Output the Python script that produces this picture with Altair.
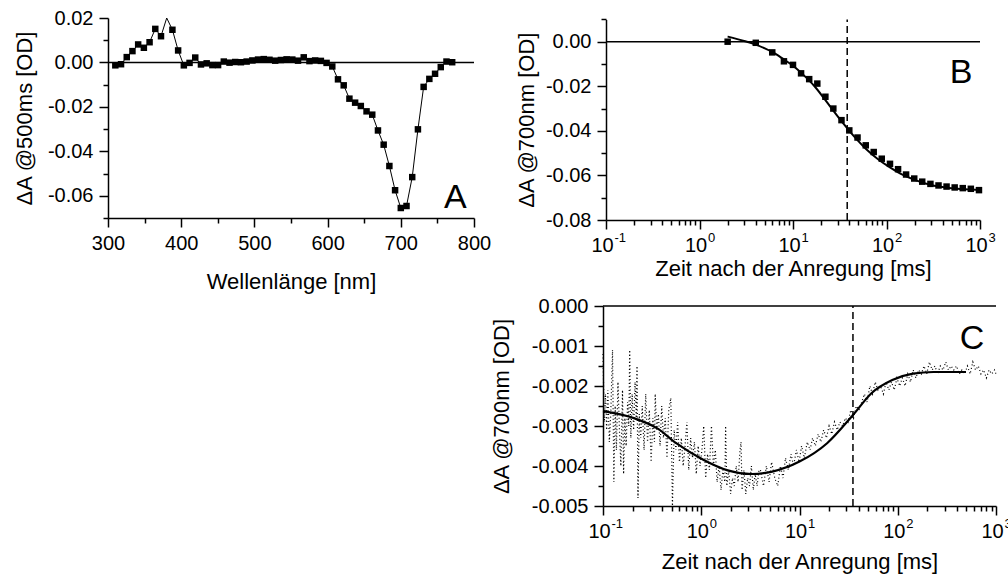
import altair as alt
import pandas as pd

W, H = 1008, 576
FONT = "Liberation Sans"

# ---------------- Panel A : spectrum at 500 ms ----------------
wl_nm = [310.0, 317.8, 325.6, 333.4, 341.2, 349.0, 356.8, 364.6, 372.4, 380.2,
         388.0, 395.8, 403.6, 411.4, 419.2, 427.0, 434.8, 442.6, 450.4, 458.2,
         466.0, 473.8, 481.6, 489.4, 497.2, 505.0, 512.8, 520.6, 528.4, 536.2,
         544.0, 551.8, 559.6, 567.4, 575.2, 583.0, 590.8, 598.6, 606.4, 614.2,
         622.0, 629.8, 637.6, 645.4, 653.2, 661.0, 668.8, 676.6, 684.4, 692.2,
         700.0, 707.8, 715.6, 723.4, 731.2, 739.0, 746.8, 754.6, 762.4, 770.2]
dA_500ms = [-0.0013, -0.0008, 0.0024, 0.0051, 0.0081, 0.0066, 0.0091, 0.0151, 0.0118, 0.0225,
            0.0147, 0.0054, -0.0013, -0.0002, 0.0022, -0.0009, -0.0004, -0.0012, -0.0012, 0.0004,
            -0.0001, 0.0002, 0.0001, 0.0004, 0.0009, 0.0013, 0.0015, 0.0012, 0.0008, 0.0011,
            0.0014, 0.0013, 0.0008, 0.0023, 0.0006, 0.0009, 0.0007, -0.0002, -0.0018, -0.0076,
            -0.0103, -0.0163, -0.0181, -0.0196, -0.0220, -0.0235, -0.0306, -0.0370, -0.0466, -0.0575,
            -0.0655, -0.0646, -0.0516, -0.0301, -0.0110, -0.0074, -0.0051, -0.0021, 0.0004, 0.0001]
A_x_major = [300, 400, 500, 600, 700, 800]
A_x_minor = [350, 450, 550, 650, 750]
A_y_major = [-0.06, -0.04, -0.02, 0.0, 0.02]
A_y_minor = [-0.07, -0.05, -0.03, -0.01, 0.01]
A_zero = {"x0": [300], "x1": [800], "y0": [0.0]}
A_tag = {"x": [774.6], "y": [-0.0656], "t": ["A"]}

# ---------------- Panel B : kinetics at 700 nm ----------------
tB_pts = [2, 4, 6, 8, 10, 12.2, 14.9, 18.2, 22.2, 27, 33, 40, 49, 60, 73, 89, 109,
          133, 162, 198, 241, 295, 360, 439, 536, 654, 798, 975]
dA_B_pts = [0.0000, -0.0005, -0.0048, -0.0088, -0.0104, -0.0142, -0.0168, -0.0188,
            -0.0247, -0.0300, -0.0352, -0.0398, -0.0430, -0.0465, -0.0495, -0.0525,
            -0.0548, -0.0572, -0.0596, -0.0614, -0.0628, -0.0638, -0.0645, -0.0650,
            -0.0654, -0.0657, -0.0660, -0.0666]
tB_fit = [2.0, 3.0, 4.0, 5.0, 6.0, 8.0, 10, 13, 17, 22, 28, 35, 45, 60, 80, 110,
          150, 200, 300, 450, 700, 1000]
dA_B_fit = [0.0023, 0.0003, -0.0013, -0.0030, -0.0046, -0.0080, -0.0108, -0.0150,
            -0.0200, -0.0260, -0.0318, -0.0370, -0.0425, -0.0480, -0.0525, -0.0565,
            -0.0598, -0.0620, -0.0643, -0.0655, -0.0662, -0.0665]
B_y_major = [-0.08, -0.06, -0.04, -0.02, 0.0]
B_y_minor = [-0.07, -0.05, -0.03, -0.01, 0.01]
B_zero = {"x0": [0.1], "x1": [1000], "y0": [0.0]}
B_dash = {"t": [38], "ylo": [-0.08], "yhi": [0.01]}
B_tag = {"x": [627], "y": [-0.01865], "t": ["B"]}

# ---------------- Panel C : fast kinetics at 700 nm ----------------
tC = [0.100, 0.103, 0.106, 0.109, 0.112, 0.116, 0.120, 0.125, 0.129, 0.133,
      0.137, 0.142, 0.147, 0.152, 0.158, 0.162, 0.167, 0.172, 0.178, 0.183,
      0.187, 0.192, 0.198, 0.205, 0.212, 0.218, 0.222, 0.227, 0.234, 0.242,
      0.251, 0.262, 0.272, 0.284, 0.296, 0.309, 0.322, 0.334, 0.340, 0.352,
      0.366, 0.381, 0.396, 0.412, 0.430, 0.448, 0.467, 0.490, 0.509, 0.530,
      0.552, 0.575, 0.600, 0.627, 0.655, 0.684, 0.714, 0.746, 0.780, 0.815,
      0.852, 0.890, 0.930, 0.972, 1.016, 1.06, 1.11, 1.16, 1.21, 1.27,
      1.33, 1.39, 1.45, 1.52, 1.59, 1.66, 1.74, 1.77, 1.82, 1.90,
      1.99, 2.08, 2.17, 2.27, 2.37, 2.48, 2.54, 2.60, 2.72, 2.84,
      2.97, 3.10, 3.24, 3.39, 3.54, 3.70, 3.87,
      4.0, 4.3, 4.6, 4.9, 5.2, 5.6, 6.0, 6.4, 6.8, 7.2,
      7.7, 8.2, 8.7, 9.3, 9.9, 10.5, 11.2, 12.0, 12.8, 13.6,
      14.5, 15.5, 16.5, 17.6, 18.8, 20.0, 21.3, 22.7, 24.2, 25.8,
      27.5, 29.3, 31.2, 33.3, 35.5, 37.8, 40.3, 43.0, 45.8, 48.8,
      52.0, 55.4, 59.0, 62.9, 67.0, 71.4, 76.1, 81.1, 86.4, 92.1,
      98.1, 104.5, 111.4, 118.7, 126.5, 134.8, 143.6, 153, 163, 174,
      185, 197, 210, 224, 239, 254, 271, 289, 308, 328,
      349, 372, 397, 423, 450, 480, 512, 545, 581, 619,
      660, 703, 749, 798, 850, 906, 965, 1000]
dA_C = [-0.0012, -0.0029, -0.0022, -0.0031, -0.0021, -0.0034, -0.0027, -0.0011, -0.0044, -0.0025,
        -0.0036, -0.0019, -0.0031, -0.0040, -0.0021, -0.0042, -0.0028, -0.0035, -0.0024, -0.0030,
        -0.0011, -0.0033, -0.0022, -0.0031, -0.0019, -0.0028, -0.0015, -0.0048, -0.0027, -0.0033,
        -0.0025, -0.0036, -0.0022, -0.0034, -0.0026, -0.0039, -0.0028, -0.0034, -0.0022, -0.0031,
        -0.0027, -0.0035, -0.0025, -0.0033, -0.0028, -0.0038, -0.0026, -0.0023, -0.0050, -0.0031,
        -0.0036, -0.0029, -0.0039, -0.0033, -0.0040, -0.0035, -0.0029, -0.0041, -0.0033, -0.0038,
        -0.0034, -0.0042, -0.0035, -0.0040, -0.0036, -0.0030, -0.0043, -0.0037, -0.0041, -0.0030,
        -0.0040, -0.0036, -0.0044, -0.0040, -0.0046, -0.0041, -0.0044, -0.0030, -0.0045, -0.0041,
        -0.0047, -0.0043, -0.0045, -0.0040, -0.0044, -0.0036, -0.0034, -0.0046, -0.0041, -0.0047,
        -0.0043, -0.0045, -0.0040, -0.0046, -0.0042, -0.0045, -0.0041,
        -0.0041, -0.0045, -0.0040, -0.0044, -0.0039, -0.0043, -0.0045, -0.0040, -0.0043, -0.0038,
        -0.0041, -0.0037, -0.0040, -0.0036, -0.0039, -0.0035, -0.0038, -0.0034, -0.0036, -0.0033,
        -0.0035, -0.0032, -0.0034, -0.0031, -0.0033, -0.0030, -0.0032, -0.0029, -0.0031, -0.0029,
        -0.0030, -0.0028, -0.0029, -0.0026, -0.0028, -0.0025, -0.0026, -0.0024, -0.0022, -0.0024,
        -0.0020, -0.0022, -0.0019, -0.0021, -0.0020, -0.0022, -0.0019, -0.0021, -0.0019, -0.0021,
        -0.0018, -0.0020, -0.0018, -0.0020, -0.0017, -0.0019, -0.0016, -0.0018, -0.0016, -0.0017,
        -0.0015, -0.0017, -0.0014, -0.0016, -0.0015, -0.0017, -0.0015, -0.0016, -0.0014, -0.0016,
        -0.0015, -0.0016, -0.0015, -0.0017, -0.0016, -0.0017, -0.0015, -0.0017, -0.0014, -0.0016,
        -0.0015, -0.0017, -0.0016, -0.0018, -0.0016, -0.0017, -0.0016, -0.0017]
tC_fit = [0.1, 0.21, 0.357, 0.556, 1.06, 1.86, 3.26, 5.28, 10.0, 19.1, 34.9, 54, 88, 143, 231, 495]
dA_C_fit = [-0.00263, -0.00281, -0.00306, -0.00343, -0.00385, -0.00411, -0.00420, -0.00414,
            -0.00389, -0.00343, -0.00273, -0.00218, -0.00185, -0.00169, -0.00165, -0.00165]
C_y_major = [-0.005, -0.004, -0.003, -0.002, -0.001, 0.0]
C_y_minor = [-0.0045, -0.0035, -0.0025, -0.0015, -0.0005]
C_zero = {"x0": [0.1], "x1": [1000], "y0": [0.0]}
C_dash = {"t": [35], "ylo": [-0.005], "yhi": [0.0]}
C_tag = {"x": [570], "y": [-0.00107], "t": ["C"]}

log_major = [0.1, 1, 10, 100, 1000]
log_minor = [0.2, 0.3, 0.4, 0.5, 0.6, 0.7, 0.8, 0.9, 2, 3, 4, 5, 6, 7, 8, 9,
             20, 30, 40, 50, 60, 70, 80, 90, 200, 300, 400, 500, 600, 700, 800, 900]

# ---------------- pixel layout of the three panels ----------------
A_X, A_Y = [108, 474], [218, 18]
B_X, B_Y = [606, 980], [220, 19.4]
C_X, C_Y = [603, 996], [506, 306]

TICK_MAJ, TICK_MIN = 9, 5
LBL, TTL, LPAD = 20, 22, 6
TAG = 34


def xaxis(yline, values, ticksize=TICK_MAJ, labels=True, domain=True, title=None, **kw):
    return alt.Axis(orient="bottom", offset=yline - H, values=values, tickSize=ticksize,
                    labels=labels, domain=domain, title=title, grid=False, **kw)


def yaxis(xline, values, ticksize=TICK_MAJ, labels=True, domain=True, title=None, **kw):
    return alt.Axis(orient="left", offset=-xline, values=values, tickSize=ticksize,
                    labels=labels, domain=domain, title=title, grid=False, **kw)


fmt2 = "replace(format(datum.value,'.2f'),'\u2212','-')"
fmt3 = "replace(format(datum.value,'.3f'),'\u2212','-')"
exp_expr = ("datum.value < 0.5 ? '-1' : datum.value < 5 ? '0' : "
            "datum.value < 50 ? '1' : datum.value < 500 ? '2' : '3'")

# ---------- A ----------
xA = alt.Scale(domain=[300, 800], range=A_X, nice=False, zero=False)
yA = alt.Scale(domain=[-0.07, 0.02], range=A_Y, nice=False, zero=False, clamp=True)
dfA = pd.DataFrame({"wl": wl_nm, "dA": dA_500ms})

A_line = alt.Chart(dfA).mark_line(color="black", strokeWidth=1).encode(
    x=alt.X("wl:Q", scale=xA, axis=xaxis(A_Y[0], A_x_major, format="d",
                                          title="Wellenlänge [nm]", titlePadding=18)),
    y=alt.Y("dA:Q", scale=yA, axis=yaxis(A_X[0], A_y_major, labelExpr=fmt2,
                                          title="ΔA @500ms [OD]", titlePadding=11)),
)
A_pts = alt.Chart(dfA).transform_filter("datum.dA <= 0.02").mark_square(
    size=42, color="black", opacity=1).encode(
    x=alt.X("wl:Q", scale=xA, axis=xaxis(A_Y[0], A_x_minor, TICK_MIN, labels=False, domain=False)),
    y=alt.Y("dA:Q", scale=yA, axis=yaxis(A_X[0], A_y_minor, TICK_MIN, labels=False, domain=False)),
)
A_zero_l = alt.Chart(pd.DataFrame(A_zero)).mark_rule(color="black", strokeWidth=1.5).encode(
    x=alt.X("x0:Q", scale=xA, axis=None), x2="x1:Q",
    y=alt.Y("y0:Q", scale=yA, axis=None),
)
A_txt = alt.Chart(pd.DataFrame(A_tag)).mark_text(
    fontSize=TAG, font=FONT, align="center", baseline="alphabetic", color="black").encode(
    x=alt.X("x:Q", scale=xA, axis=None), y=alt.Y("y:Q", scale=yA, axis=None), text="t:N")

# ---------- B ----------
xB = alt.Scale(type="log", domain=[0.1, 1000], range=B_X, nice=False)
yB = alt.Scale(domain=[-0.08, 0.01], range=B_Y, nice=False, zero=False)
dfBp = pd.DataFrame({"t": tB_pts, "dA": dA_B_pts})
dfBf = pd.DataFrame({"t": tB_fit, "dA": dA_B_fit})

B_fit = alt.Chart(dfBf).mark_line(color="black", strokeWidth=2, interpolate="monotone").encode(
    x=alt.X("t:Q", scale=xB, axis=xaxis(B_Y[0], log_major, labelExpr="'10'", labelOffset=-4,
                                         title="Zeit nach der Anregung [ms]", titlePadding=3)),
    y=alt.Y("dA:Q", scale=yB, axis=yaxis(B_X[0], B_y_major, labelExpr=fmt2,
                                          title="ΔA @700nm [OD]", titlePadding=7)),
)
B_pts = alt.Chart(dfBp).mark_square(size=42, color="black", opacity=1).encode(
    x=alt.X("t:Q", scale=xB, axis=xaxis(B_Y[0], log_minor, TICK_MIN, labels=False, domain=False)),
    y=alt.Y("dA:Q", scale=yB, axis=yaxis(B_X[0], B_y_minor, TICK_MIN, labels=False, domain=False)),
)
B_zero_l = alt.Chart(pd.DataFrame(B_zero)).mark_rule(color="black", strokeWidth=1.5).encode(
    x=alt.X("x0:Q", scale=xB, axis=xaxis(B_Y[0], log_major, domain=False, tickOpacity=0,
                                          labelExpr=exp_expr, labelFontSize=13, labelAlign="left",
                                          labelOffset=8, labelPadding=2)),
    x2="x1:Q",
    y=alt.Y("y0:Q", scale=yB, axis=None),
)
B_dash_l = alt.Chart(pd.DataFrame(B_dash)).mark_rule(
    color="black", strokeWidth=1.5, strokeDash=[7, 4]).encode(
    x=alt.X("t:Q", scale=xB, axis=None),
    y=alt.Y("ylo:Q", scale=yB, axis=None), y2="yhi:Q")
B_txt = alt.Chart(pd.DataFrame(B_tag)).mark_text(
    fontSize=TAG, font=FONT, align="center", baseline="alphabetic", color="black").encode(
    x=alt.X("x:Q", scale=xB, axis=None), y=alt.Y("y:Q", scale=yB, axis=None), text="t:N")

# ---------- C ----------
xC = alt.Scale(type="log", domain=[0.1, 1000], range=C_X, nice=False)
yC = alt.Scale(domain=[-0.005, 0.0], range=C_Y, nice=False, zero=False)
dfC = pd.DataFrame({"t": tC, "dA": dA_C})
dfCf = pd.DataFrame({"t": tC_fit, "dA": dA_C_fit})

C_raw = alt.Chart(dfC).mark_line(color="black", strokeWidth=1.2, strokeDash=[1, 2.5]).encode(
    x=alt.X("t:Q", scale=xC, axis=xaxis(C_Y[0], log_major, labelExpr="'10'", labelOffset=-4,
                                         title="Zeit nach der Anregung [ms]", titlePadding=10)),
    y=alt.Y("dA:Q", scale=yC, axis=yaxis(C_X[0], C_y_major, labelExpr=fmt3,
                                          title="ΔA @700nm [OD]", titlePadding=18)),
)
C_fit = alt.Chart(dfCf).mark_line(color="black", strokeWidth=2.2, interpolate="monotone").encode(
    x=alt.X("t:Q", scale=xC, axis=xaxis(C_Y[0], log_minor, TICK_MIN, labels=False, domain=False)),
    y=alt.Y("dA:Q", scale=yC, axis=yaxis(C_X[0], C_y_minor, TICK_MIN, labels=False, domain=False)),
)
C_zero_l = alt.Chart(pd.DataFrame(C_zero)).mark_rule(color="black", strokeWidth=1.5).encode(
    x=alt.X("x0:Q", scale=xC, axis=xaxis(C_Y[0], log_major, domain=False, tickOpacity=0,
                                          labelExpr=exp_expr, labelFontSize=13, labelAlign="left",
                                          labelOffset=8, labelPadding=2)),
    x2="x1:Q",
    y=alt.Y("y0:Q", scale=yC, axis=None),
)
C_dash_l = alt.Chart(pd.DataFrame(C_dash)).mark_rule(
    color="black", strokeWidth=1.5, strokeDash=[7, 4]).encode(
    x=alt.X("t:Q", scale=xC, axis=None),
    y=alt.Y("ylo:Q", scale=yC, axis=None), y2="yhi:Q")
C_txt = alt.Chart(pd.DataFrame(C_tag)).mark_text(
    fontSize=TAG, font=FONT, align="center", baseline="alphabetic", color="black").encode(
    x=alt.X("x:Q", scale=xC, axis=None), y=alt.Y("y:Q", scale=yC, axis=None), text="t:N")

chart = alt.layer(
    A_zero_l, A_line, A_pts, A_txt,
    B_zero_l, B_dash_l, B_fit, B_pts, B_txt,
    C_zero_l, C_dash_l, C_raw, C_fit, C_txt,
).resolve_scale(x="independent", y="independent").properties(
    width=W, height=H, autosize=alt.AutoSizeParams(type="none"), padding=0,
    background="white",
).configure_view(stroke=None).configure_axis(
    labelFont=FONT, titleFont=FONT, labelFontSize=LBL, titleFontSize=TTL,
    labelColor="black", titleColor="black", domainColor="black", tickColor="black",
    domainWidth=1.5, tickWidth=1.5, titleFontWeight="normal", labelPadding=LPAD,
    labelFlush=False, labelOverlap=False,
)

chart.save("out.html", embed_options={"renderer": "svg", "actions": False})
